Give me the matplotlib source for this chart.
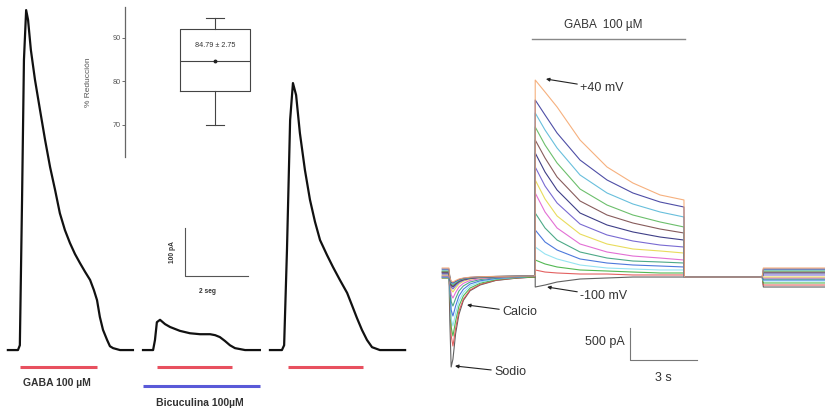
import matplotlib
matplotlib.use("Agg")
import matplotlib.pyplot as plt

plt.rcParams['font.family'] = ['Liberation Sans', 'DejaVu Sans']

# ---------------- Left panel data (time s, current pA) ----------------
gaba1_t = [0.25, 0.57, 0.63, 0.70, 0.76, 0.83, 0.89, 0.98, 1.11, 1.27, 1.43, 1.59, 1.75, 1.90, 2.06,
           2.22, 2.38, 2.54, 2.70, 2.86, 2.98, 3.08, 3.17, 3.27, 3.40, 3.49, 3.59, 3.81, 4.22]
gaba1_i = [0, 0, 10, 313, 604, 708, 688, 625, 563, 500, 438, 381, 333, 285, 250,
           223, 200, 181, 163, 146, 125, 104, 69, 42, 21, 8, 4, 0, 0]
bicu_t = [4.54, 4.86, 4.92, 4.98, 5.08, 5.24, 5.40, 5.71, 6.03, 6.35, 6.67, 6.83, 6.98, 7.14,
          7.30, 7.46, 7.78, 8.25]
bicu_i = [0, 0, 21, 58, 63, 54, 48, 40, 35, 33, 33, 31, 27, 19, 10, 4, 0, 0]
gaba2_t = [8.57, 8.95, 9.02, 9.11, 9.21, 9.30, 9.40, 9.52, 9.68, 9.84, 10.00, 10.16, 10.38, 10.57,
           10.79, 11.02, 11.17, 11.33, 11.49, 11.65, 11.81, 12.06, 12.86]
gaba2_i = [0, 0, 10, 208, 479, 556, 531, 452, 375, 313, 267, 229, 198, 173, 146, 119, 94, 67,
           42, 21, 6, 0, 0]

gaba_bars_start = [0.63, 4.98, 9.14]
gaba_bars_end = [3.08, 7.37, 11.52]
bicu_bar = [4.54, 8.25]

# Inset box plot (% Reducción)
box_q1, box_med, box_q3 = 77.7, 84.7, 92.1
box_lo, box_hi = 70.0, 94.6
box_mean = 84.7
box_label = "84.79 ± 2.75"
inset_ticks = [70, 80, 90]

# ---------------- Right panel data (time s, current pA) ----------------
voltages = [40, 30, 20, 10, 0, -10, -20, -30, -40, -50, -60, -70, -80, -90, -100]
trace_colors = ['#f5a870', '#3b3b9c', '#58b8d8', '#5cb85c', '#7a4a4a', '#2a2a7a', '#6a5acd',
                '#e6d84a', '#e060d0', '#3aa07a', '#3a6ad8', '#8ae0f0', '#40b040', '#e05050',
                '#505050']

pre_t = [0.10, 0.40, 0.44, 0.50, 0.58, 0.70, 0.85, 1.05, 1.35, 1.80, 2.50, 3.40, 4.24]
pre_vals = [
    [125, 125, -19, -80, -94, -70, -47, -31, -19, -11, -6, -3, 0],
    [109, 109, -22, -93, -109, -82, -55, -36, -22, -13, -7, -3, 0],
    [94, 94, -25, -106, -125, -94, -62, -41, -25, -15, -8, -4, 0],
    [78, 78, -28, -120, -141, -106, -70, -47, -28, -17, -8, -4, 0],
    [62, 62, -31, -133, -156, -117, -78, -51, -31, -19, -9, -5, 0],
    [47, 47, -34, -146, -172, -129, -86, -57, -34, -21, -10, -5, 0],
    [31, 31, -41, -173, -203, -152, -102, -67, -41, -24, -12, -6, 0],
    [16, 16, -50, -212, -250, -188, -125, -82, -50, -30, -15, -8, 0],
    [0, 0, -69, -292, -344, -258, -172, -114, -69, -41, -21, -10, 0],
    [0, 0, -94, -399, -469, -352, -234, -155, -94, -56, -28, -14, 0],
    [-16, -16, -125, -531, -625, -469, -312, -206, -125, -75, -38, -19, 0],
    [-16, -16, -156, -664, -781, -586, -391, -258, -156, -94, -47, -23, 0],
    [-31, -31, -188, -797, -938, -703, -469, -309, -188, -113, -56, -28, -16],
    [-31, -31, -219, -930, -1094, -820, -547, -361, -219, -131, -66, -33, -16],
    [62, 62, -700, -1422, -1300, -900, -600, -380, -230, -140, -70, -35, -16],
]

step_t = [4.27, 4.71, 5.25, 6.28, 7.49, 8.65, 9.87, 10.94]
step_vals = [
    [3062, 2875, 2641, 2125, 1703, 1453, 1266, 1188],
    [2750, 2516, 2234, 1812, 1500, 1297, 1156, 1078],
    [2547, 2281, 2000, 1578, 1297, 1125, 1000, 922],
    [2328, 2047, 1766, 1359, 1109, 953, 844, 766],
    [2125, 1844, 1547, 1172, 953, 828, 734, 672],
    [1922, 1625, 1344, 984, 797, 688, 609, 562],
    [1703, 1406, 1141, 812, 641, 547, 484, 453],
    [1500, 1203, 938, 656, 500, 422, 391, 359],
    [1297, 1000, 750, 500, 375, 312, 281, 250],
    [984, 750, 562, 375, 281, 234, 219, 203],
    [719, 531, 406, 266, 203, 172, 156, 141],
    [453, 344, 266, 172, 125, 109, 94, 94],
    [250, 188, 141, 94, 78, 62, 47, 47],
    [94, 62, 47, 31, 31, 16, 16, 16],
    [-172, -141, -94, -47, -31, -16, -16, -16],
]

post_t = [11.02, 12.5, 14.45, 14.50, 17.3]
post_level = [-16, -16, -16, -16, -16, -16, -16, -16, -16, -16, -16, -16, -16, -16, -16]
tail_level = [125, 109, 94, 78, 62, 47, 16, -16, -31, -47, -62, -78, -109, -141, -172]

gaba_on, gaba_off = 4.13, 11.0

# ---------------- Figure ----------------
fig = plt.figure(figsize=(8.25, 4.12), dpi=100)
txt = '#333333'

# Left panel
axl = fig.add_axes([0, 0, 420 / 825, 1])
axl.set_xlim(0, 420 / 31.5)
axl.set_ylim(-129, 729)
axl.axis('off')
for t, i in [(gaba1_t, gaba1_i), (bicu_t, bicu_i), (gaba2_t, gaba2_i)]:
    axl.plot(t, i, color='#111111', lw=1.6, solid_joinstyle='round')
for s, e in zip(gaba_bars_start, gaba_bars_end):
    axl.plot([s, e], [-35, -35], color='#e8505f', lw=2.2, solid_capstyle='butt')
axl.plot(bicu_bar, [-75, -75], color='#5a5ad8', lw=2.2, solid_capstyle='butt')
axl.text(1.81, -69, 'GABA 100 µM', ha='center', va='center', fontsize=7.5,
         fontweight='bold', color=txt)
axl.text(6.35, -110, 'Bicuculina 100µM', ha='center', va='center', fontsize=7.5,
         fontweight='bold', color=txt)
# scale bar
axl.plot([5.87, 5.87, 7.87], [254, 154, 154], color='#555555', lw=0.8)
axl.text(5.47, 204, '100 pA', rotation=90, ha='center', va='center', fontsize=4.8,
         fontweight='bold', color=txt)
axl.text(6.6, 121, '2 seg', ha='center', va='center', fontsize=4.8, fontweight='bold', color=txt)

# Inset box plot
axi = fig.add_axes([125 / 825, 1 - 157 / 412, 145 / 825, 150 / 412])
axi.patch.set_visible(False)
axi.set_xlim(0, 1)
axi.set_ylim(62.6, 97.1)
for sp in ['top', 'right', 'bottom']:
    axi.spines[sp].set_visible(False)
axi.spines['left'].set_color('#666666')
axi.spines['left'].set_linewidth(0.9)
axi.set_xticks([])
axi.set_yticks(inset_ticks)
axi.tick_params(axis='y', labelsize=5.2, length=2, width=0.6, colors='#555555', pad=1)
axi.set_ylabel('% Reducción', fontsize=6, color='#555555', labelpad=15)
stats = [dict(med=box_med, q1=box_q1, q3=box_q3, whislo=box_lo, whishi=box_hi, mean=box_mean)]
axi.bxp(stats, positions=[0.62], widths=[0.48], showmeans=True, showfliers=False,
        boxprops=dict(color='#444444', lw=0.8), medianprops=dict(color='#444444', lw=0.8),
        whiskerprops=dict(color='#444444', lw=0.8), capprops=dict(color='#444444', lw=0.8),
        meanprops=dict(marker='o', markersize=1.8, markerfacecolor='#222222',
                       markeredgecolor='#222222'), capwidths=[0.12], manage_ticks=False)
axi.text(0.62, 88.3, box_label, ha='center', va='center', fontsize=5.2, color=txt)

# Right panel
axr = fig.add_axes([440 / 825, 0, 385 / 825, 1])
axr.set_xlim(0, 385 / 22.3)
axr.set_ylim(-2125, 4312.5)
axr.axis('off')
for k in range(len(voltages) - 1, -1, -1):
    t = pre_t + [step_t[0]] + step_t + [step_t[-1] + 0.02] + post_t
    v = (pre_vals[k] + [pre_vals[k][-1]] + step_vals[k] + [post_level[k]] +
         [post_level[k], post_level[k], post_level[k], tail_level[k], tail_level[k]])
    axr.plot(t, v, color=trace_colors[k], lw=0.8, alpha=0.9)

axr.plot([gaba_on, gaba_off], [3700, 3700], color='#888888', lw=1.0)
axr.text(7.31, 3920, 'GABA  100 µM', ha='center', va='center', fontsize=8.5, color=txt)

ann = dict(arrowstyle='-|>', color='#222222', lw=0.8, mutation_scale=5, shrinkA=0, shrinkB=0)
axr.annotate('+40 mV', xy=(4.75, 3078), xytext=(6.28, 2937), fontsize=9, color=txt,
             va='center', arrowprops=ann)
axr.annotate('-100 mV', xy=(4.8, -172), xytext=(6.28, -312), fontsize=9, color=txt,
             va='center', arrowprops=ann)
axr.annotate('Calcio', xy=(1.21, -453), xytext=(2.78, -562), fontsize=9, color=txt,
             va='center', arrowprops=ann)
axr.annotate('Sodio', xy=(0.67, -1406), xytext=(2.42, -1500), fontsize=9, color=txt,
             va='center', arrowprops=ann)

axr.plot([8.52, 8.52, 11.52], [-812, -1312, -1312], color='#777777', lw=0.8)
axr.text(8.3, -1031, '500 pA', ha='right', va='center', fontsize=9, color=txt)
axr.text(10.0, -1594, '3 s', ha='center', va='center', fontsize=9, color=txt)

fig.savefig('out.png', dpi=100)
